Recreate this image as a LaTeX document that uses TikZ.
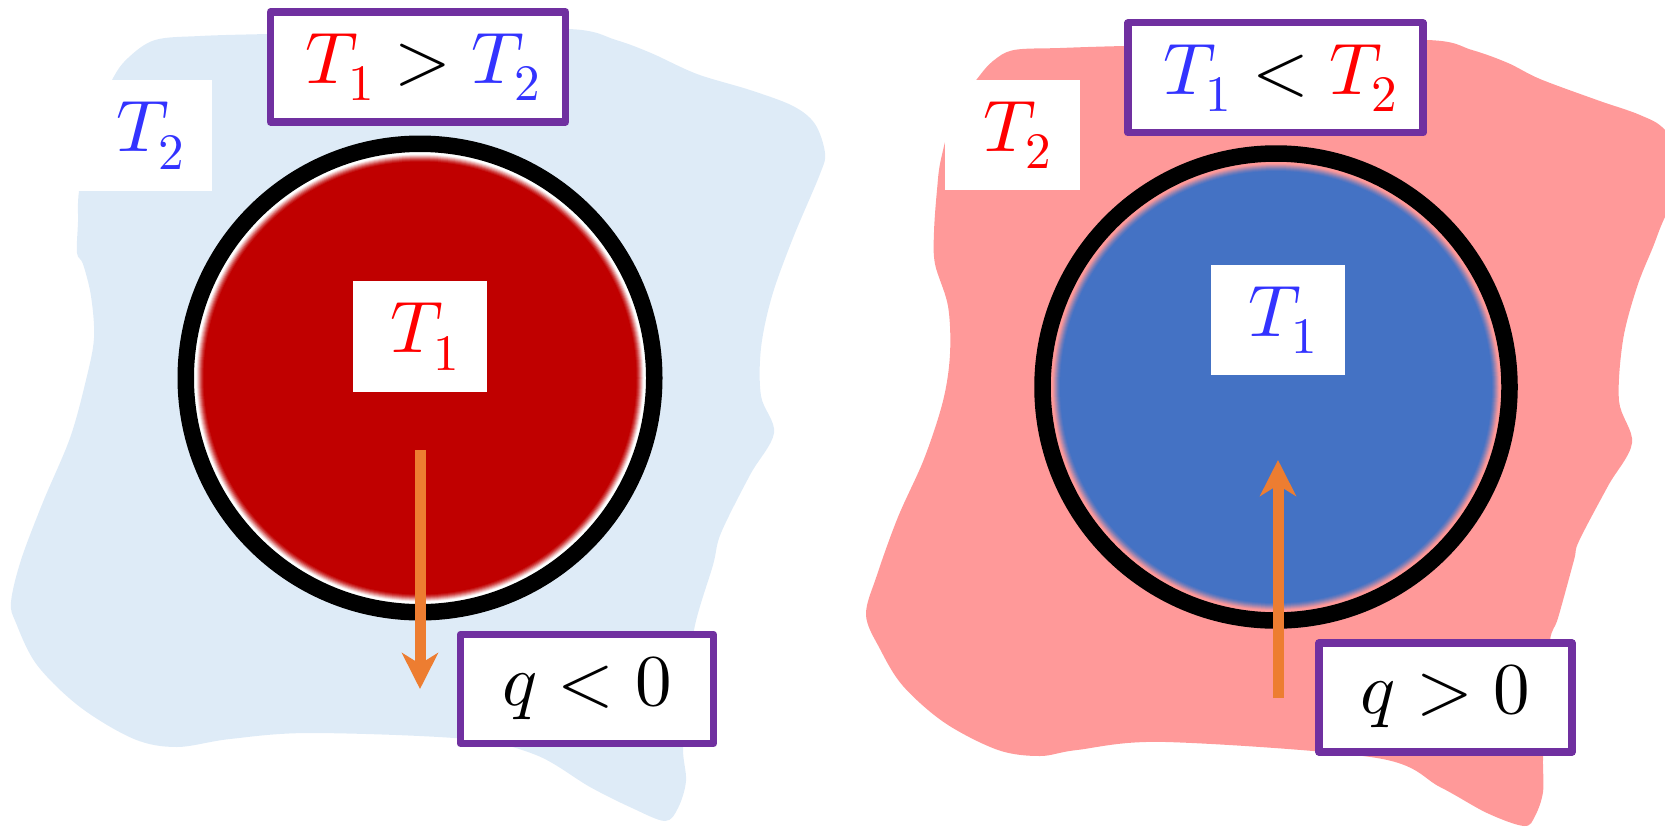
\documentclass[tikz,border=0pt]{standalone}
\DeclareFontShape{OML}{cmm}{m}{it}{<->cmmi10}{}
\DeclareFontShape{OT1}{cmr}{m}{n}{<->cmr10}{}
\DeclareFontShape{OMS}{cmsy}{m}{n}{<->cmsy10}{}
\usetikzlibrary{arrows.meta}
\definecolor{bgblue}{HTML}{DEEBF7}
\definecolor{bgpink}{HTML}{FF9999}
\definecolor{circred}{HTML}{C00000}
\definecolor{circblue}{HTML}{4472C4}
\definecolor{arrorange}{HTML}{ED7D31}
\definecolor{boxpurple}{HTML}{7030A0}
\definecolor{txtred}{HTML}{FF0000}
\definecolor{txtblue}{HTML}{3333FF}
\newcommand\Tsub[1]{T_{\lower6.5pt\hbox{$\scriptstyle #1$}}}
\tikzset{
  wbox/.style={fill=white, inner sep=0pt, minimum width=134pt, minimum height=111pt},
  pbox/.style={draw=boxpurple, line width=7.3pt, fill=white, inner sep=0pt, line join=round},
  topbox/.style={pbox, minimum width=295pt, minimum height=110pt},
  qbox/.style={pbox, minimum width=253pt, minimum height=109pt},
  ring/.style={draw=black, line width=16.5pt},
  qarrow/.style={draw=arrorange, line width=11pt, -{Stealth[length=36pt,width=36pt,inset=11pt]}},
}
\begin{document}
\begin{tikzpicture}[x=1pt, y=-1pt, font=\fontsize{73}{88}\selectfont]
\useasboundingbox (0,0) rectangle (1665,828);
% left surroundings
\fill[bgblue] plot[smooth cycle, tension=0.55] coordinates {
 (112,80) (128,58) (155,40) (200,36) (268,34) (420,31) (569,29) (616,40) (651,53) (697,74)
 (750,90) (793,106) (815,124) (825,153) (820,174) (793,238) (772,296) (761,348) (761,396)
 (774,433) (750,475) (721,533) (713,565) (694,630) (688,700) (683,748) (686,781) (678,808)
 (665,821) (632,808) (590,787) (536,755) (466,739) (311,733) (230,739) (177,747) (134,739)
 (80,707) (37,665) (16,623) (11,602) (21,560) (43,502) (70,438) (86,380) (94,338) (91,296)
 (83,264) (77,253) (78,222) (79,191) (90,130)};
% right surroundings
\fill[bgpink] plot[smooth cycle, tension=0.55] coordinates {
 (977,79) (993,61) (1014,50) (1060,48) (1124,46) (1270,43) (1427,40) (1472,50) (1508,63)
 (1540,79) (1597,100) (1640,115) (1665,130) (1690,170) (1665,217) (1653,247) (1637,287)
 (1623,340) (1619,401) (1632,443) (1608,486) (1579,541) (1574,560) (1558,618) (1550,640)
 (1545,700) (1543,758) (1543,792) (1535,816) (1524,826) (1487,813) (1440,787) (1377,758)
 (1166,742) (1077,750) (1040,756) (998,750) (945,723) (903,686) (880,649) (866,615)
 (877,575) (898,517) (924,459) (943,401) (950,354) (948,306) (935,264) (934,232) (937,190)
 (941,159) (955,110)};
% circles with soft rim
\coordinate (cL) at (420,378);
\coordinate (cR) at (1276,387);
\fill[white] (cL) circle[radius=230pt];
\foreach \r/\p in {223.5/10, 222.5/25, 221.5/40, 220.5/55, 219.5/70, 218.5/82, 217.5/92, 216.5/100}
  \fill[circred!\p!white] (cL) circle[radius=\r pt];
\draw[ring] (cL) circle[radius=234.25pt];
\fill[bgpink] (cR) circle[radius=230pt];
\foreach \r/\p in {223/10, 222/25, 221/40, 220/55, 219/70, 218/82, 217/92, 216/100}
  \fill[circblue!\p!bgpink] (cR) circle[radius=\r pt];
\draw[ring] (cR) circle[radius=233.5pt];
% white labels
\node[wbox, minimum width=133pt] (lT2) at (145.5,135.5) {\hspace*{10pt}$\color{txtblue}\Tsub{2}$};
\node[wbox] (lT1) at (420,336.5) {\hspace*{10pt}$\color{txtred}\Tsub{1}$};
\node[wbox, minimum width=135pt, minimum height=110pt] (rT2) at (1012.5,135) {\hspace*{10pt}$\color{txtred}\Tsub{2}$};
\node[wbox, minimum height=110pt] (rT1) at (1278,320) {\hspace*{10pt}$\color{txtblue}\Tsub{1}$};
% arrows
\coordinate (aL1) at (420,450);
\coordinate (aL2) at (420,689);
\coordinate (aR1) at (1278,698);
\coordinate (aR2) at (1278,460);
\draw[qarrow] (aL1) -- (aL2);
\draw[qarrow] (aR1) -- (aR2);
% purple boxes
\node[topbox] (lTop) at (418,67) {\hspace*{10pt}${\color{txtred}\Tsub{1}} > {\color{txtblue}\Tsub{2}}$};
\node[topbox] (rTop) at (1275.5,77.8) {\hspace*{10pt}${\color{txtblue}\Tsub{1}} < {\color{txtred}\Tsub{2}}$};
\node[qbox] (lq) at (587,689) {$q<0$};
\node[qbox] (rq) at (1445.5,697.5) {$q>0$};
\end{tikzpicture}
\end{document}
